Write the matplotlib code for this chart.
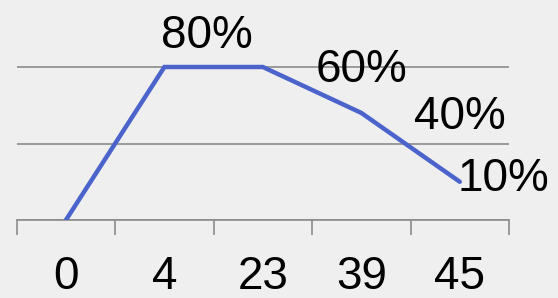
import matplotlib
matplotlib.use("Agg")
import matplotlib.pyplot as plt
from matplotlib.ticker import FixedLocator

categories = ["0", "4", "23", "39", "45"]
values = [0, 80, 80, 56, 20]
label_texts = ["80%", "60%", "40%", "10%"]
label_x = [1.43, 3.0, 4.0, 3.98]
label_y = [90, 81, 56.5, 24]
label_ha = ["center", "center", "center", "left"]
label_va = ["baseline", "center_baseline", "center_baseline", "center_baseline"]

plt.rcParams['font.family'] = ['Liberation Sans', 'DejaVu Sans']

bg = "#efefef"
fig = plt.figure(figsize=(5.58, 2.98), dpi=100, facecolor=bg)
W, H = 558, 298
ax_left, ax_right = 16.7, 509
ax_bottom = 220
ymax = 90
ax_top = ax_bottom - 153 * ymax / 80
ax = fig.add_axes([ax_left / W, (H - ax_bottom) / H, (ax_right - ax_left) / W, (ax_bottom - ax_top) / H])
ax.set_facecolor(bg)

x = list(range(len(categories)))
ax.plot(x, values, color="#4a64cc", lw=3.2, solid_capstyle="round", solid_joinstyle="miter", zorder=3)

ax.set_xlim(-0.5, len(categories) - 0.5)
ax.set_ylim(0, ymax)
ax.set_yticks([0, 40, 80])
ax.yaxis.grid(True, color="#8c8c8c", lw=1.2)
ax.set_axisbelow(True)
ax.tick_params(axis="y", length=0, labelleft=False)

ax.set_xticks(x)
ax.set_xticklabels(categories, fontsize=33)
ax.tick_params(axis="x", which="major", length=0, pad=25.5)
ax.xaxis.set_minor_locator(FixedLocator([i - 0.5 for i in range(len(categories) + 1)]))
ax.tick_params(axis="x", which="minor", length=10.5, width=1.2, color="#8c8c8c", direction="out")

for s in ["top", "right", "left"]:
    ax.spines[s].set_visible(False)
ax.spines["bottom"].set_color("#8c8c8c")
ax.spines["bottom"].set_linewidth(1.2)

for t, lx, ly, ha, va in zip(label_texts, label_x, label_y, label_ha, label_va):
    ax.text(lx, ly, t, fontsize=33, ha=ha, va=va, color="black", zorder=4,
            clip_on=False)

fig.savefig("out.png", dpi=100, facecolor=bg)
